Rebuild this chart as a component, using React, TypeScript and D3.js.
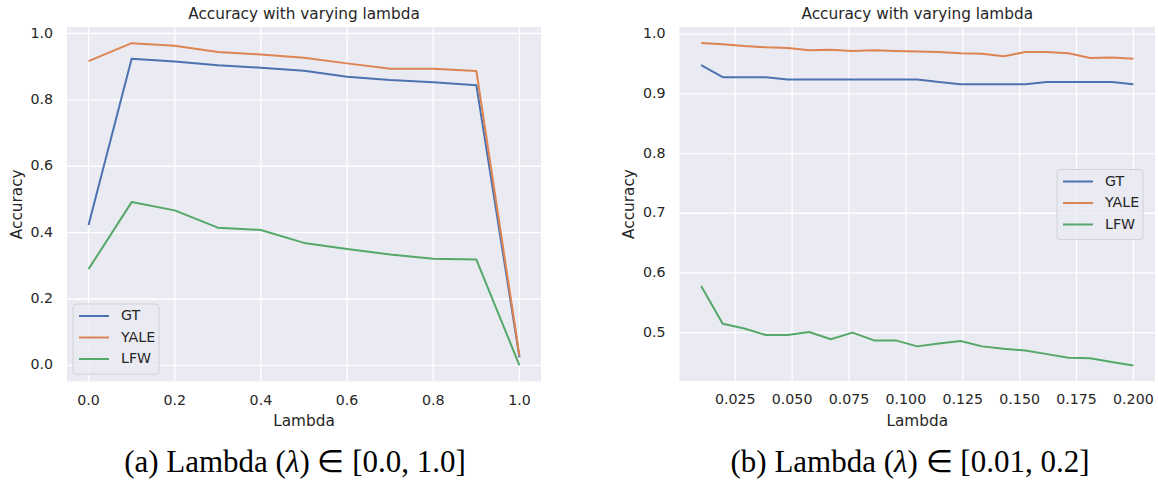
import React from "react";
import * as d3 from "d3";

// chart (a): lambda in [0, 1]
const lambdaA = [0.0, 0.1, 0.2, 0.3, 0.4, 0.5, 0.6, 0.7, 0.8, 0.9, 1.0];
const gtA = [0.423, 0.924, 0.916, 0.904, 0.897, 0.888, 0.870, 0.860, 0.853, 0.844, 0.024];
const yaleA = [0.917, 0.971, 0.963, 0.944, 0.937, 0.927, 0.910, 0.894, 0.894, 0.887, 0.029];
const lfwA = [0.290, 0.492, 0.467, 0.415, 0.408, 0.369, 0.351, 0.334, 0.321, 0.319, 0.0];

// chart (b): lambda in [0.01, 0.2]
const lambdaB = [0.01, 0.0195, 0.029, 0.0385, 0.048, 0.0575, 0.067, 0.0765, 0.086, 0.0955, 0.105,
  0.1145, 0.124, 0.1335, 0.143, 0.1525, 0.162, 0.1715, 0.181, 0.1905, 0.2];
const gtB = [0.948, 0.928, 0.928, 0.928, 0.924, 0.924, 0.924, 0.924, 0.924, 0.924, 0.924,
  0.920, 0.916, 0.916, 0.916, 0.916, 0.920, 0.920, 0.920, 0.920, 0.916];
const yaleB = [0.985, 0.983, 0.980, 0.978, 0.977, 0.973, 0.974, 0.972, 0.973, 0.972, 0.971,
  0.970, 0.968, 0.967, 0.963, 0.970, 0.970, 0.968, 0.960, 0.961, 0.959];
const lfwB = [0.578, 0.515, 0.507, 0.496, 0.496, 0.501, 0.489, 0.500, 0.487, 0.487, 0.477,
  0.482, 0.486, 0.477, 0.473, 0.470, 0.464, 0.458, 0.457, 0.451, 0.445];

const seriesNames = ["GT", "YALE", "LFW"];
const colors = ["#4C72B0", "#DD8452", "#55A868"];

const ticksA_x = [0.0, 0.2, 0.4, 0.6, 0.8, 1.0];
const ticksA_y = [0.0, 0.2, 0.4, 0.6, 0.8, 1.0];
const ticksB_x = [0.025, 0.05, 0.075, 0.1, 0.125, 0.15, 0.175, 0.2];
const ticksB_y = [0.5, 0.6, 0.7, 0.8, 0.9, 1.0];

const FONT = "DejaVu Sans, sans-serif";
const TXT = "#262626";

type PanelProps = {
  left: number; right: number; top: number; bottom: number;
  xs: number[]; ys: number[][];
  xDomain: [number, number]; yDomain: [number, number];
  xTicks: number[]; yTicks: number[];
  xFmt: (v: number) => string; yFmt: (v: number) => string;
  legendX: number; legendY: number;
};

function Panel(p: PanelProps) {
  const x = d3.scaleLinear().domain(p.xDomain).range([p.left, p.right]);
  const y = d3.scaleLinear().domain(p.yDomain).range([p.bottom, p.top]);
  const line = d3.line<number>().x((_, i) => x(p.xs[i])).y((d) => y(d));
  const cx = (p.left + p.right) / 2;
  const cy = (p.top + p.bottom) / 2;
  return (
    <g>
      <rect x={p.left} y={p.top} width={p.right - p.left} height={p.bottom - p.top} fill="#EAEAF2" />
      {p.xTicks.map((t) => (
        <line key={"gx" + t} x1={x(t)} x2={x(t)} y1={p.top} y2={p.bottom} stroke="#fff" strokeWidth={1.3} />
      ))}
      {p.yTicks.map((t) => (
        <line key={"gy" + t} x1={p.left} x2={p.right} y1={y(t)} y2={y(t)} stroke="#fff" strokeWidth={1.3} />
      ))}
      {p.ys.map((s, i) => (
        <path key={"s" + i} d={line(s) || ""} fill="none" stroke={colors[i]} strokeWidth={2} strokeLinejoin="round" />
      ))}
      {p.xTicks.map((t) => (
        <text key={"tx" + t} x={x(t)} y={p.bottom + 19} textAnchor="middle" dominantBaseline="middle"
          fontSize={14.2} fill={TXT} fontFamily={FONT}>{p.xFmt(t)}</text>
      ))}
      {p.yTicks.map((t) => (
        <text key={"ty" + t} x={p.left - 14} y={y(t)} textAnchor="end" dominantBaseline="middle"
          fontSize={14.2} fill={TXT} fontFamily={FONT}>{p.yFmt(t)}</text>
      ))}
      <text x={cx} y={p.top - 13} textAnchor="middle" dominantBaseline="middle" fontSize={15.3}
        fill={TXT} fontFamily={FONT}>Accuracy with varying lambda</text>
      <text x={cx} y={p.bottom + 40} textAnchor="middle" dominantBaseline="middle" fontSize={15.3}
        fill={TXT} fontFamily={FONT}>Lambda</text>
      <text transform={`translate(${p.left - 50},${cy}) rotate(-90)`} textAnchor="middle" dominantBaseline="middle"
        fontSize={15.3} fill={TXT} fontFamily={FONT}>Accuracy</text>
      <g transform={`translate(${p.legendX},${p.legendY})`}>
        <rect x={0} y={0} width={86} height={70} rx={3} fill="#EAEAF2" fillOpacity={0.8} stroke="#d2d2d8" strokeWidth={1} />
        {seriesNames.map((n, i) => (
          <g key={n} transform={`translate(0,${12 + i * 21.5})`}>
            <line x1={6} x2={36} y1={0} y2={0} stroke={colors[i]} strokeWidth={2} />
            <text x={48} y={0} dominantBaseline="middle" fontSize={14.2} fill={TXT} fontFamily={FONT}>{n}</text>
          </g>
        ))}
      </g>
    </g>
  );
}

export default function App() {
  const f1 = d3.format(".1f");
  const f3 = d3.format(".3f");
  const capStyle = { fontFamily: "Liberation Serif, serif", fontSize: 31, fill: "#000" };
  return (
    <svg width={1158} height={484} style={{ position: "absolute", left: 0, top: 0, background: "#fff" }}>
      <Panel left={67} right={541} top={27} bottom={381.5}
        xs={lambdaA} ys={[gtA, yaleA, lfwA]}
        xDomain={[-0.05, 1.05]} yDomain={[-0.0486, 1.0196]}
        xTicks={ticksA_x} yTicks={ticksA_y} xFmt={f1} yFmt={f1}
        legendX={73} legendY={304} />
      <Panel left={679.5} right={1155} top={27} bottom={381}
        xs={lambdaB} ys={[gtB, yaleB, lfwB]}
        xDomain={[0.0005, 0.2095]} yDomain={[0.419, 1.012]}
        xTicks={ticksB_x} yTicks={ticksB_y} xFmt={f3} yFmt={f1}
        legendX={1057} legendY={169.5} />
      <text x={295} y={465} textAnchor="middle" dominantBaseline="middle" style={capStyle}>
        (a) Lambda (<tspan fontStyle="italic">λ</tspan>) ∈ [0.0, 1.0]
      </text>
      <text x={910} y={465} textAnchor="middle" dominantBaseline="middle" style={capStyle}>
        (b) Lambda (<tspan fontStyle="italic">λ</tspan>) ∈ [0.01, 0.2]
      </text>
    </svg>
  );
}
